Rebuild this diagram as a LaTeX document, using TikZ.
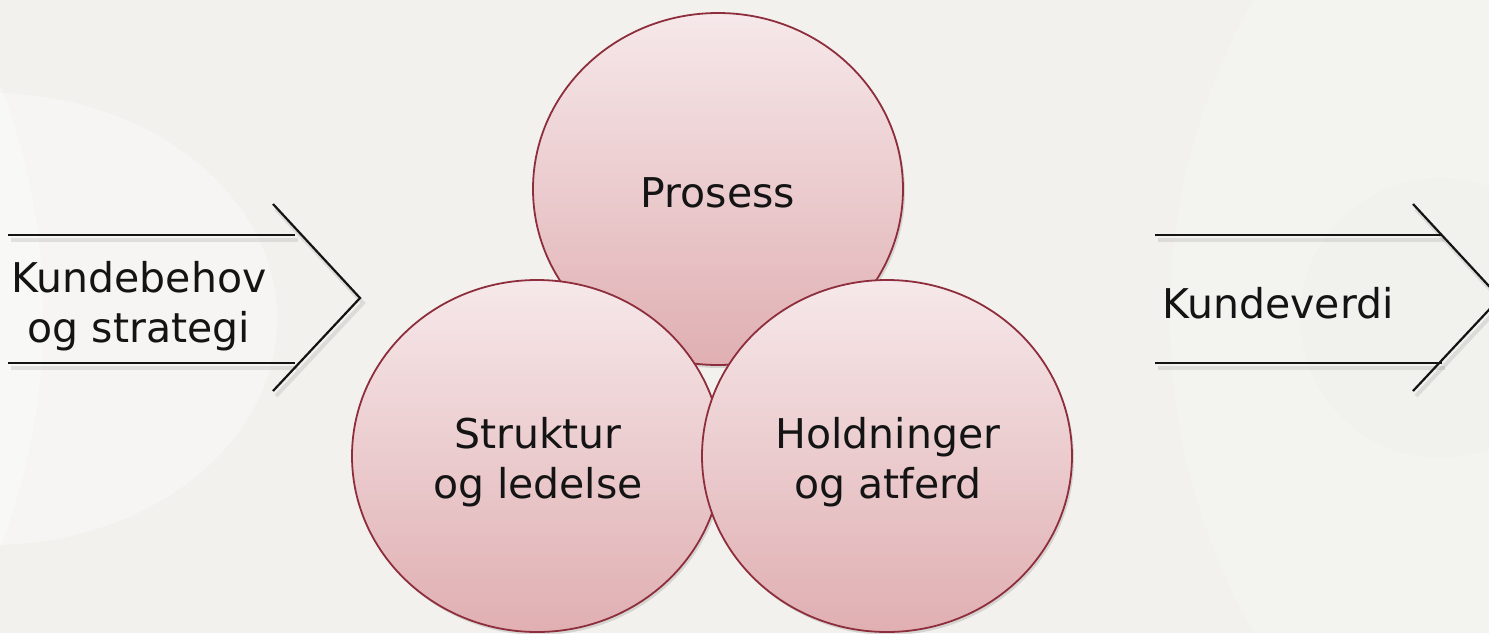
\documentclass[tikz,border=0pt]{standalone}
\usepackage{fontspec}
\setmainfont{DejaVu Sans}
\usetikzlibrary{shapes.geometric,shadows,calc}
\definecolor{bg}{HTML}{F2F1ED}
\definecolor{rimred}{HTML}{8E2E3C}
\definecolor{toppink}{HTML}{F6E8EA}
\definecolor{botpink}{HTML}{E0AFB2}
\definecolor{ink}{HTML}{141414}
\begin{document}
\begin{tikzpicture}[x=1pt,y=-1pt,
  bubble/.style={ellipse, draw=rimred, line width=1.8pt, minimum width=370pt,
    minimum height=352pt, inner sep=0pt, top color=toppink, bottom color=botpink,
    drop shadow={opacity=0.25, shadow xshift=2pt, shadow yshift=-3pt}},
  lbl/.style={font=\fontsize{41}{50}\selectfont, text=ink, align=center, inner sep=0pt},
  rail/.style={line width=2.2pt, draw=ink},
  railshadow/.style={line width=4pt, draw=black, opacity=0.09}]
\useasboundingbox (0,0) rectangle (1489,633);
\clip (0,0) rectangle (1489,633);
\fill[bg] (0,0) rectangle (1489,633);
% faint background shapes
\fill[white, opacity=0.30] (-600,316) circle [radius=643];
\fill[white, opacity=0.35] (-10,319) ellipse [x radius=287, y radius=226];
\fill[white, opacity=0.15] (1810,316) circle [radius=640];
\fill[black, opacity=0.008] (1440,318) circle [radius=140];

% arrow shadows
\begin{scope}[shift={(3,5)}]
\draw[railshadow] (8,235) -- (295,235);
\draw[railshadow] (8,363) -- (295,363);
\draw[railshadow] (273,204) -- (360,298) -- (273,391);
\draw[railshadow] (1155,235) -- (1442,235);
\draw[railshadow] (1155,363) -- (1442,363);
\draw[railshadow] (1413,204) -- (1500,298) -- (1413,391);
\end{scope}
% left arrow
\draw[rail] (8,235) -- (295,235);
\draw[rail] (8,363) -- (295,363);
\draw[rail] (273,204) -- (360,298) -- (273,391);
% right arrow
\draw[rail] (1155,235) -- (1442,235);
\draw[rail] (1155,363) -- (1442,363);
\draw[rail] (1413,204) -- (1500,298) -- (1413,391);

\node[lbl, anchor=base] (kb) at (139,342) {Kundebehov\\og strategi};
\node[lbl, anchor=base] (kv) at (1278,318) {Kundeverdi};

% bubbles
\node[bubble] (pro) at (718,189) {};
\node[bubble] (str) at (537,456) {};
\node[bubble] (hol) at (887,456) {};
\node[lbl, anchor=base] (tp) at (718,207) {Prosess};
\node[lbl, anchor=base] (ts) at (538,498) {Struktur\\og ledelse};
\node[lbl, anchor=base] (th) at (888,498) {Holdninger\\og atferd};
\end{tikzpicture}
\end{document}
